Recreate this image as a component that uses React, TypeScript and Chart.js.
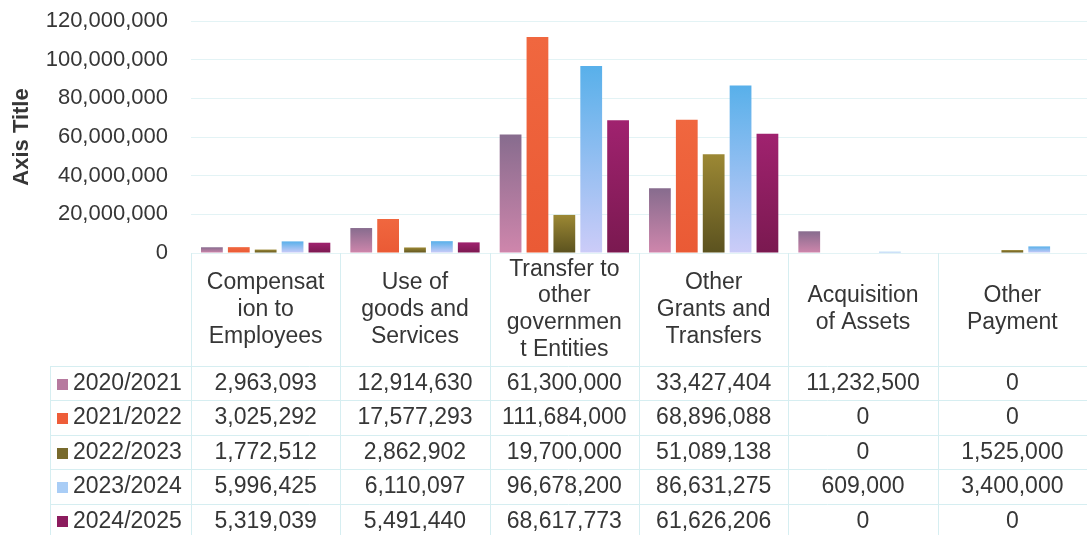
import React, { useEffect, useRef } from "react";
import { Chart, registerables } from "chart.js";

Chart.register(...registerables);

const categories: string[][] = [
  ["Compensat", "ion to", "Employees"],
  ["Use of", "goods and", "Services"],
  ["Transfer to", "other", "governmen", "t Entities"],
  ["Other", "Grants and", "Transfers"],
  ["Acquisition", "of Assets"],
  ["Other", "Payment"],
];

const seriesNames = ["2020/2021", "2021/2022", "2022/2023", "2023/2024", "2024/2025"];

const s2020 = [2963093, 12914630, 61300000, 33427404, 11232500, 0];
const s2021 = [3025292, 17577293, 111684000, 68896088, 0, 0];
const s2022 = [1772512, 2862902, 19700000, 51089138, 0, 1525000];
const s2023 = [5996425, 6110097, 96678200, 86631275, 609000, 3400000];
const s2024 = [5319039, 5491440, 68617773, 61626206, 0, 0];

const seriesValues = [s2020, s2021, s2022, s2023, s2024];

const yTicks = [0, 20000000, 40000000, 60000000, 80000000, 100000000, 120000000];

// gradient top / bottom colours and legend key colour per series
const gradTop = ["#876c8e", "#f0673f", "#9c8834", "#58b0ea", "#a0226f"];
const gradBottom = ["#cf86ac", "#ea5a35", "#5b521f", "#ccccf8", "#7a1950"];
const keyColors = ["#b77a9f", "#ee5d39", "#786a2c", "#a9cdf6", "#8c1c5e"];

const FONT = "'Liberation Sans', Arial, Helvetica, sans-serif";
const TEXT = "#363636";
const LINE = "#d6eef1";

const fmt = (v: number) => v.toLocaleString("en-US");

const tablePlugin = {
  id: "dataTable",
  afterDraw(chart: any) {
    const { ctx, chartArea } = chart;
    const n = categories.length;
    const left = chartArea.left;
    const right = chartArea.right;
    const catW = (right - left) / n;
    const headTop = chartArea.bottom;
    const headBottom = 366;
    const rowH = 34.4;
    const legendLeft = 50;
    const bottom = chart.height + 2;

    ctx.save();
    ctx.strokeStyle = LINE;
    ctx.lineWidth = 1;
    for (let i = 0; i <= n; i++) {
      const x = Math.round(left + i * catW) + 0.5;
      ctx.beginPath();
      ctx.moveTo(x, headTop);
      ctx.lineTo(x, bottom);
      ctx.stroke();
    }
    ctx.beginPath();
    ctx.moveTo(legendLeft + 0.5, headBottom);
    ctx.lineTo(legendLeft + 0.5, bottom);
    ctx.stroke();
    for (let r = 0; r <= seriesNames.length; r++) {
      const y = Math.round(headBottom + r * rowH) + 0.5;
      ctx.beginPath();
      ctx.moveTo(legendLeft, y);
      ctx.lineTo(right, y);
      ctx.stroke();
    }

    ctx.fillStyle = TEXT;
    ctx.font = `23px ${FONT}`;
    ctx.textAlign = "center";
    ctx.textBaseline = "middle";
    const lh = 26.8;
    const hc = (headTop + headBottom) / 2;
    categories.forEach((lines, i) => {
      const cx = left + (i + 0.5) * catW;
      const start = hc - ((lines.length - 1) * lh) / 2;
      lines.forEach((t, k) => ctx.fillText(t, cx, start + k * lh));
    });

    seriesNames.forEach((name, r) => {
      const cy = headBottom + (r + 0.5) * rowH + 0.5;
      ctx.fillStyle = keyColors[r];
      ctx.fillRect(57, Math.round(cy - 5), 11, 11);
      ctx.fillStyle = TEXT;
      ctx.textAlign = "left";
      ctx.fillText(name, 73, cy);
      ctx.textAlign = "center";
      seriesValues[r].forEach((v, i) => {
        ctx.fillText(fmt(v), left + (i + 0.5) * catW, cy);
      });
    });
    ctx.restore();
  },
};

export default function App() {
  const ref = useRef<HTMLCanvasElement | null>(null);

  useEffect(() => {
    if (!ref.current) return;
    const chart = new Chart(ref.current, {
      type: "bar",
      data: {
        labels: categories.map((c) => c.join(" ")),
        datasets: seriesNames.map((name, si) => ({
          label: name,
          data: seriesValues[si],
          borderWidth: 0,
          categoryPercentage: 0.9,
          barPercentage: 0.81,
          backgroundColor: (c: any) => {
            const ch = c.chart;
            const y = ch.scales && ch.scales.y;
            if (!ch.chartArea || !y || typeof c.raw !== "number") return keyColors[si];
            const top = y.getPixelForValue(c.raw);
            const base = y.getPixelForValue(0);
            if (!isFinite(top) || !isFinite(base) || base - top < 1) return keyColors[si];
            const g = ch.ctx.createLinearGradient(0, top, 0, base);
            g.addColorStop(0, gradTop[si]);
            g.addColorStop(1, gradBottom[si]);
            return g;
          },
        })),
      },
      options: {
        animation: false,
        responsive: false,
        maintainAspectRatio: false,
        layout: { padding: { top: 21, bottom: 282, left: 0, right: 0 } },
        plugins: {
          legend: { display: false },
          tooltip: { enabled: false },
        },
        scales: {
          x: { display: false },
          y: {
            min: 0,
            max: 120000000,
            afterBuildTicks: (s: any) => {
              s.ticks = yTicks.map((v) => ({ value: v }));
            },
            afterFit: (s: any) => {
              s.width = 191;
            },
            border: { display: false },
            grid: {
              color: "#e3f3f5",
              drawTicks: true,
              tickLength: 23,
              tickColor: "rgba(0,0,0,0)",
              lineWidth: 1,
            },
            ticks: {
              padding: 0,
              color: TEXT,
              font: { family: FONT, size: 22 },
              callback: (v: any) => fmt(Number(v)),
            },
            title: {
              display: true,
              text: "Axis Title",
              color: TEXT,
              font: { family: FONT, size: 22, weight: "bold" },
              padding: { top: 9, bottom: 0 },
            },
          },
        },
      },
      plugins: [tablePlugin],
    });
    return () => chart.destroy();
  }, []);

  return (
    <div style={{ position: "fixed", left: 0, top: 0, width: 1087, height: 535, background: "#fff" }}>
      <canvas ref={ref} width={1087} height={535} style={{ width: 1087, height: 535 }} />
    </div>
  );
}
